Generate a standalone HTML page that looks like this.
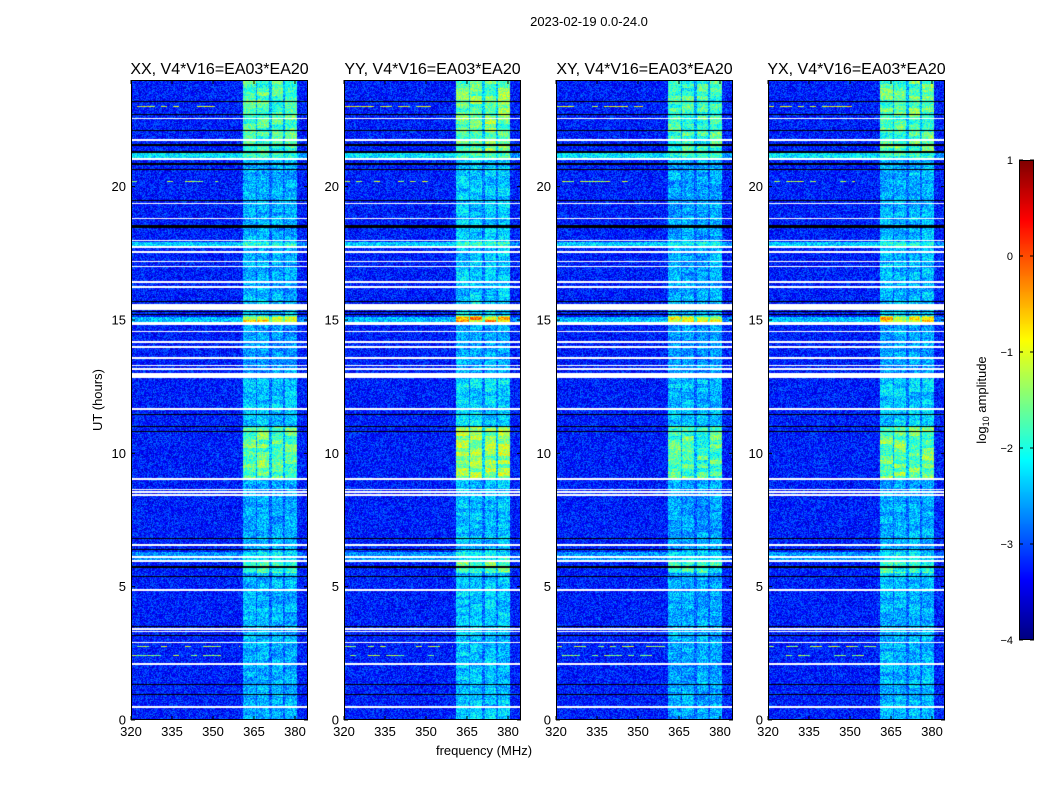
<!DOCTYPE html>
<html><head><meta charset="utf-8"><style>
body{margin:0;background:#fff;}
#wrap{position:relative;width:1050px;height:800px;overflow:hidden;font-family:"Liberation Sans",sans-serif;}
canvas{position:absolute;}
svg{position:absolute;left:0;top:0;}
</style></head><body>
<div id="wrap">
<canvas id="c0" width="177" height="640" style="left:131px;top:80px"></canvas>
<canvas id="c1" width="177" height="640" style="left:344px;top:80px"></canvas>
<canvas id="c2" width="177" height="640" style="left:556px;top:80px"></canvas>
<canvas id="c3" width="177" height="640" style="left:768px;top:80px"></canvas>
<canvas id="cb" width="15" height="480" style="left:1019px;top:160px"></canvas>
<svg id="ov" width="1050" height="800"></svg>
</div>
<script>
const panelTitles=["XX, V4*V16=EA03*EA20","YY, V4*V16=EA03*EA20","XY, V4*V16=EA03*EA20","YX, V4*V16=EA03*EA20"];
const panelLefts=[131,344,556,768];
const panelGain=[1.0,1.15,0.95,1.05];
const xTicks=[320,335,350,365,380];
const yTicks=[0,5,10,15,20];
const cbTicks=[1,0,-1,-2,-3,-4];
const background=-3.25;
const bandStarts=[361.1,366.2,371.5,376.3];
const bandEnds=[365.7,370.6,375.7,380.6];
const actStart=[0,5.5,6.0,9.0,11.0,12.8,14.9,15.15,15.7,21.3];
const actEnd=[5.5,6.0,9.0,11.0,12.8,14.9,15.15,15.7,21.3,24];
const actLevel=[0.75,1.4,0.7,1.6,0.85,0.65,1.9,0.85,0.75,1.5];
const rowStart=[21.05,17.73,14.92,5.97];
const rowEnd=[21.28,17.91,15.13,6.3];
const rowLevel=[1.0,0.9,0.8,0.6];
const whiteStart=[22.53,21.73,21.01,19.34,18.77,17.95,17.70,17.51,17.17,16.97,16.39,16.21,15.39,14.80,14.54,14.14,13.95,13.55,13.27,13.14,12.83,11.64,9.01,8.61,8.51,8.40,6.54,6.09,5.94,4.84,3.39,3.29,2.88,2.06,0.46];
const whiteEnd=[22.59,21.79,21.07,19.40,18.83,18.01,17.76,17.57,17.23,17.03,16.45,16.27,15.60,14.92,14.60,14.20,14.01,13.61,13.33,13.20,13.0,11.70,9.07,8.67,8.57,8.46,6.60,6.15,6.00,4.90,3.45,3.35,2.94,2.12,0.52];
const blackRows=[23.2,22.7,22.1,21.56,21.3,20.85,20.64,19.47,18.53,18.49,17.58,15.69,15.33,15.2,11.45,11.02,10.81,6.8,6.39,5.74,5.39,3.52,3.17,1.34,0.96];
const rfiTime=[23.4,23.02,20.19,2.77,2.42];
const rfiF0=[320,320,320,320,320];
const rfiF1=[352,352,352,360,355];
const rfiLevel=[-1.0,-1.0,-1.2,-1.2,-1.4];

const W=177,H=640,F0=320,PXF=2.733,PXH=640/24;
function fOf(px){return F0+(px+0.5)/PXF;}
function tOf(py){return (H-py-0.5)/PXH;}
function xOf(f){return (f-F0)*PXF;}
function yOf(t){return H-t*PXH;}
function jet(v){let x=(v+4)/5;x=Math.max(0,Math.min(1,x));
 const c=a=>Math.max(0,Math.min(1,a));
 return [c(1.5-Math.abs(4*x-3))*255,c(1.5-Math.abs(4*x-2))*255,c(1.5-Math.abs(4*x-1))*255];}
function hash(a,b,s){let h=(a*374761393+b*668265263+s*982451653)|0;h=(h^(h>>>13))*1274126177|0;h=h^(h>>>16);return ((h>>>0)%10000)/10000;}
function inRange(t,s,e){for(let i=0;i<s.length;i++)if(t>=s[i]&&t<e[i])return i;return -1;}

for(let p=0;p<4;p++){
 const cv=document.getElementById('c'+p),ctx=cv.getContext('2d');
 const img=ctx.createImageData(W,H);
 for(let py=0;py<H;py++){
  const t=tOf(py);
  const ai=inRange(t,actStart,actEnd);
  const act=ai>=0?actLevel[ai]*panelGain[p]:0;
  const ri=inRange(t,rowStart,rowEnd);
  const white=inRange(t,whiteStart,whiteEnd)>=0;
  let black=false;for(const b of blackRows){if(Math.abs(yOf(b)-py-0.5)<0.6)black=true;}
  let rfi=-1;for(let k=0;k<rfiTime.length;k++){if(Math.abs(yOf(rfiTime[k])-py-0.5)<0.5)rfi=k;}
  for(let px=0;px<W;px++){
   const f=fOf(px);const o=(py*W+px)*4;let col;
   if(white)col=[255,255,255];
   else if(black)col=[0,0,0];
   else{
    let v=background+(hash(px,py,p)-0.5)*0.9;
    const bi=inRange(f,bandStarts,bandEnds);
    if(bi>=0)v+=act*(0.75+0.45*hash(bi,Math.floor(py/4),p+7));
    else if(f>bandStarts[0]&&f<bandEnds[3])v+=act*0.5;
    if(ri>=0)v+=rowLevel[ri]*(f<361?1:0.6);
    if(rfi>=0&&f>=rfiF0[rfi]&&f<rfiF1[rfi]&&hash(Math.floor(px/6),rfi,p)>0.45)v=rfiLevel[rfi]+(hash(px,rfi,p)-0.5)*1.0;
    col=jet(v);
   }
   img.data[o]=col[0];img.data[o+1]=col[1];img.data[o+2]=col[2];img.data[o+3]=255;
  }
 }
 ctx.putImageData(img,0,0);
}
(function(){const cv=document.getElementById('cb'),ctx=cv.getContext('2d');
 for(let y=0;y<480;y++){const v=1-5*(y+0.5)/480;const c=jet(v);ctx.fillStyle=`rgb(${c[0]|0},${c[1]|0},${c[2]|0})`;ctx.fillRect(0,y,15,1);}})();

const NS='http://www.w3.org/2000/svg',ov=document.getElementById('ov');
function el(tag,attrs,text){const e=document.createElementNS(NS,tag);for(const k in attrs)e.setAttribute(k,attrs[k]);if(text!==undefined)e.textContent=text;ov.appendChild(e);return e;}
let e;
e=el('text',{x:589,y:26,'font-size':13,'text-anchor':'middle'},'2023-02-19 0.0-24.0');

for(let p=0;p<4;p++){
 const L=panelLefts[p],T=80;
 e=el('rect',{x:L+0.5,y:T+0.5,width:W-1,height:H-1,fill:'none',stroke:'#000','stroke-width':1});
 
 e=el('text',{x:L+W/2,y:74,'font-size':16,'text-anchor':'middle'},panelTitles[p]);
 
 for(const f of xTicks){const x=L+xOf(f);
  el('line',{x1:x,y1:T+H,x2:x,y2:T+H-4,stroke:'#000'});el('line',{x1:x,y1:T,x2:x,y2:T+4,stroke:'#000'});
  e=el('text',{x:x,y:736,'font-size':13,'text-anchor':'middle'},String(f));
  }
 for(const t of yTicks){const y=T+yOf(t);
  el('line',{x1:L,y1:y,x2:L+4,y2:y,stroke:'#000'});el('line',{x1:L+W,y1:y,x2:L+W-4,y2:y,stroke:'#000'});
  e=el('text',{x:L-5,y:y+4.5,'font-size':13,'text-anchor':'end'},String(t));
  }
}
e=el('text',{x:484,y:755,'font-size':13,'text-anchor':'middle'},'frequency (MHz)');

e=el('text',{x:102,y:400,'font-size':13,'text-anchor':'middle',transform:'rotate(-90 102 400)'},'UT (hours)');

el('rect',{x:1019.5,y:160.5,width:14,height:479,fill:'none',stroke:'#000'});
for(const v of cbTicks){const y=160+(1-v)*96;
 el('line',{x1:1019,y1:y,x2:1023,y2:y,stroke:'#000'});el('line',{x1:1034,y1:y,x2:1030,y2:y,stroke:'#000'});
 e=el('text',{x:1013,y:y+4,'font-size':11,'text-anchor':'end'},v<0?'\u2212'+(-v):String(v));
 }
e=el('text',{x:986,y:400,'font-size':13,'text-anchor':'middle',transform:'rotate(-90 986 400)'});

e.innerHTML='log<tspan font-size="9" dy="3">10</tspan><tspan dy="-3"> amplitude</tspan>';
</script>
</body></html>
